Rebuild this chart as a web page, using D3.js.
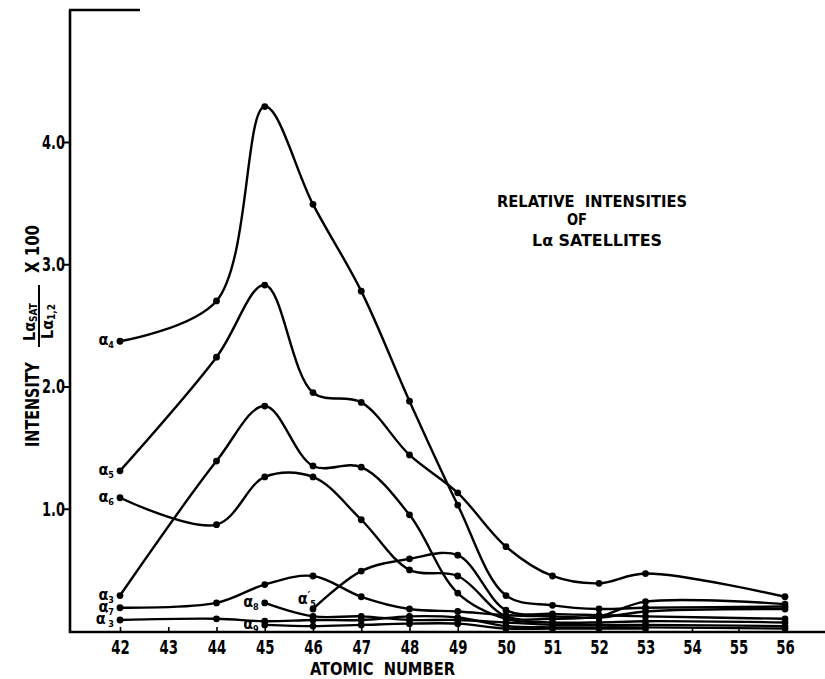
<!DOCTYPE html>
<html><head><meta charset="utf-8">
<script src="https://cdn.jsdelivr.net/npm/d3@7"></script>
<style>body{margin:0;background:#fff}svg{display:block}</style>
</head><body><svg id="c" width="825" height="679"></svg>
<script>
// ---- data (atomic number, intensity) ----
const atomicNumbers = [42,43,44,45,46,47,48,49,50,51,52,53,54,55,56];
const yTickValues = [1.0, 2.0, 3.0, 4.0];
const titleLines = ["RELATIVE  INTENSITIES", "OF", "Lα SATELLITES"];
const xLabel = "ATOMIC  NUMBER";

const alpha4  = [[42,2.37],[44,2.70],[45,4.29],[46,3.49],[47,2.78],[48,1.88],[49,1.03],[50,0.29],[51,0.21],[52,0.18],[53,0.19],[56,0.20]];
const alpha5  = [[42,1.31],[44,2.24],[45,2.83],[46,1.95],[47,1.87],[48,1.44],[49,1.13],[50,0.69],[51,0.45],[52,0.39],[53,0.47],[56,0.28]];
const alpha6  = [[42,1.09],[44,0.87],[45,1.26],[46,1.26],[47,0.91],[48,0.50],[49,0.45],[50,0.12],[51,0.10],[52,0.12],[53,0.24],[56,0.22]];
const alpha3  = [[42,0.29],[44,1.39],[45,1.84],[46,1.35],[47,1.34],[48,0.95],[49,0.31],[50,0.10],[51,0.07],[52,0.07],[53,0.08],[56,0.07]];
const alpha7  = [[42,0.19],[44,0.23],[45,0.38],[46,0.45],[47,0.28],[48,0.18],[49,0.16],[50,0.13],[51,0.12],[52,0.11],[53,0.16],[56,0.18]];
const alpha5p = [[46,0.18],[47,0.49],[48,0.59],[49,0.62],[50,0.17],[51,0.14],[52,0.13],[53,0.12],[56,0.10]];
const alpha8  = [[45,0.23],[46,0.12],[47,0.12],[48,0.09],[49,0.09],[50,0.07],[51,0.05],[52,0.05],[53,0.05],[56,0.04]];
const alpha3p = [[42,0.09],[44,0.10],[45,0.08],[46,0.09],[47,0.09],[48,0.12],[49,0.11],[50,0.04],[51,0.03],[52,0.03],[53,0.03],[56,0.02]];
const alpha9  = [[45,0.05],[46,0.04],[47,0.05],[48,0.06],[49,0.06],[50,0.02],[51,0.02],[52,0.02],[53,0.02]];

const seriesList = [
  {name:"4", prime:false, data:alpha4,  place:"left"},
  {name:"5", prime:false, data:alpha5,  place:"left"},
  {name:"6", prime:false, data:alpha6,  place:"left"},
  {name:"3", prime:false, data:alpha3,  place:"left"},
  {name:"7", prime:false, data:alpha7,  place:"left"},
  {name:"3", prime:true,  data:alpha3p, place:"left"},
  {name:"5", prime:true,  data:alpha5p, place:"above"},
  {name:"8", prime:false, data:alpha8,  place:"left"},
  {name:"9", prime:false, data:alpha9,  place:"left"}
];

// ---- drawing ----
const FONT = "'DejaVu Sans Condensed','DejaVu Sans',sans-serif";
const svg = d3.select("#c");
const x = d3.scaleLinear().domain([42,50,56]).range([120,506,785]);
const y = d3.scaleLinear().domain([0,4]).range([631,142]);
const axisY = 632, axisX = 70;

// frame lines
svg.append("line").attr("x1",axisX).attr("x2",axisX).attr("y1",10).attr("y2",axisY+1)
  .attr("stroke","#000").attr("stroke-width",2.6);
svg.append("line").attr("x1",axisX-1).attr("x2",140).attr("y1",10).attr("y2",10)
  .attr("stroke","#000").attr("stroke-width",2.4);
svg.append("line").attr("x1",axisX-1).attr("x2",825).attr("y1",axisY).attr("y2",axisY)
  .attr("stroke","#000").attr("stroke-width",2.6);

// x axis
const gx = svg.append("g").attr("transform",`translate(0,${axisY})`)
  .call(d3.axisBottom(x).tickValues(atomicNumbers).tickFormat(d3.format("d")).tickSizeInner(-5).tickSizeOuter(0).tickPadding(8));
gx.select(".domain").remove();
gx.selectAll(".tick line").attr("stroke","#000").attr("stroke-width",1.6);
gx.selectAll(".tick text").attr("font-family",FONT).attr("font-weight","bold").attr("font-size",20)
  .attr("fill","#000").attr("transform","scale(0.74,1)");

// y axis
const gy = svg.append("g").attr("transform",`translate(${axisX},0)`)
  .call(d3.axisLeft(y).tickValues(yTickValues).tickFormat(d3.format(".1f")).tickSizeInner(6).tickSizeOuter(0).tickPadding(1));
gy.select(".domain").remove();
gy.selectAll(".tick line").attr("stroke","#000").attr("stroke-width",2);
gy.selectAll(".tick text").attr("font-family",FONT).attr("font-weight","bold").attr("font-size",20)
  .attr("fill","#000").attr("transform","scale(0.72,1)");

// x label
svg.append("text").attr("x",310).attr("y",675)
  .attr("font-family",FONT).attr("font-weight","bold").attr("font-size",18)
  .attr("textLength",145).attr("lengthAdjust","spacingAndGlyphs")
  .attr("xml:space","preserve").text(xLabel);

// y label (rotated)
const yl = svg.append("g").attr("transform","translate(32,447) rotate(-90)")
  .attr("font-family",FONT).attr("font-weight","bold");
yl.append("text").attr("x",0).attr("y",7).attr("font-size",20)
  .attr("textLength",85).attr("lengthAdjust","spacingAndGlyphs").text("INTENSITY");
const num = yl.append("text").attr("x",106).attr("y",3).attr("font-size",16);
num.append("tspan").text("Lα");
num.append("tspan").attr("font-size",10).attr("dy",2).text("SAT");
yl.append("line").attr("x1",100).attr("x2",162).attr("y1",7).attr("y2",7).attr("stroke","#000").attr("stroke-width",2);
const den = yl.append("text").attr("x",108).attr("y",21).attr("font-size",16);
den.append("tspan").text("Lα");
den.append("tspan").attr("font-size",10).attr("dy",2).text("1,2");
yl.append("text").attr("x",174).attr("y",7).attr("font-size",20)
  .attr("textLength",48).attr("lengthAdjust","spacingAndGlyphs")
  .attr("xml:space","preserve").text("X 100");

// title
const tl = svg.append("g").attr("font-family",FONT).attr("font-weight","bold").attr("font-size",16);
tl.append("text").attr("x",497).attr("y",207).attr("textLength",190).attr("lengthAdjust","spacingAndGlyphs")
  .attr("xml:space","preserve").text(titleLines[0]);
tl.append("text").attr("x",567).attr("y",225).attr("textLength",20).attr("lengthAdjust","spacingAndGlyphs")
  .text(titleLines[1]);
tl.append("text").attr("x",532).attr("y",246).attr("textLength",130).attr("lengthAdjust","spacingAndGlyphs")
  .text(titleLines[2]);

// curves
const line = d3.line().x(d=>x(d[0])).y(d=>y(d[1])).curve(d3.curveCatmullRom.alpha(0.5));
const curves = svg.append("g");
seriesList.forEach(s=>{
  curves.append("path").attr("d",line(s.data)).attr("fill","none").attr("stroke","#000")
    .attr("stroke-width",2.4).attr("stroke-linejoin","round").attr("stroke-linecap","round");
  curves.selectAll(null).data(s.data).enter().append("circle")
    .attr("cx",d=>x(d[0])).attr("cy",d=>y(d[1])).attr("r",3.4).attr("fill","#000");
});

// curve labels
const labels = svg.append("g").attr("font-family",FONT).attr("font-weight","bold");
seriesList.forEach(s=>{
  const p = s.data[0];
  let lx, ly;
  if (s.place === "left") { lx = x(p[0]) - 6; ly = y(p[1]) + 4; }
  else { lx = x(p[0]) + 3; ly = y(p[1]) - 5; }
  const t = labels.append("text").attr("x",lx).attr("y",ly).attr("text-anchor","end").attr("font-size",16);
  t.append("tspan").text("α");
  if (s.prime) t.append("tspan").attr("font-size",11).attr("dy",-5).text("′");
  t.append("tspan").attr("font-size",9).attr("dy", s.prime ? 8 : 3).text(s.name);
});
</script>
</body></html>
